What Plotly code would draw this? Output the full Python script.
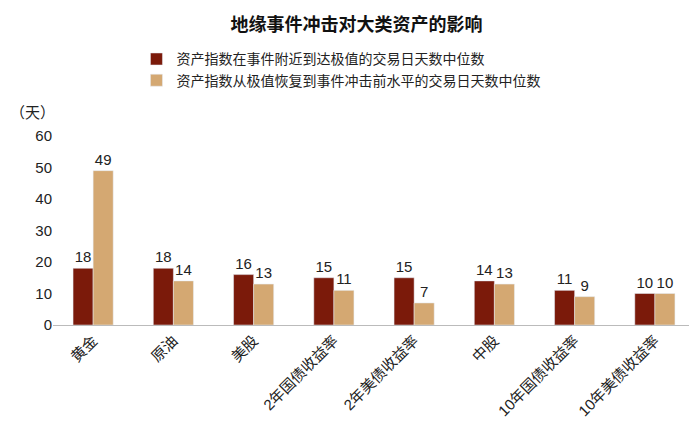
import plotly.graph_objects as go

categories = ["黄金", "原油", "美股", "2年国债收益率", "2年美债收益率", "中股", "10年国债收益率", "10年美债收益率"]
days_to_extreme = [18, 18, 16, 15, 15, 14, 11, 10]
days_to_recover = [49, 14, 13, 11, 7, 13, 9, 10]

font = "Liberation Sans, Noto Sans CJK SC"

fig = go.Figure()
fig.add_trace(go.Bar(
    x=categories, y=days_to_extreme, name="资产指数在事件附近到达极值的交易日天数中位数",
    marker_color="#7B1A0A", text=days_to_extreme, textposition="outside",
    textfont=dict(size=15, color="#222"), cliponaxis=False,
))
fig.add_trace(go.Bar(
    x=categories, y=days_to_recover, name="资产指数从极值恢复到事件冲击前水平的交易日天数中位数",
    marker_color="#D4A872", text=days_to_recover, textposition="outside",
    textfont=dict(size=15, color="#222"), cliponaxis=False,
))

fig.update_layout(
    width=697, height=427,
    font=dict(family=font, size=14, color="#222"),
    title=dict(text="<b>地缘事件冲击对大类资产的影响</b>", x=0.5, y=0.975, xanchor="center",
               font=dict(size=18, color="#111")),
    barmode="group", bargap=0.5, bargroupgap=0,
    plot_bgcolor="white", paper_bgcolor="white",
    legend=dict(x=0.13, y=1.49, xanchor="left", yanchor="top", font=dict(size=14),
                bgcolor="rgba(0,0,0,0)", tracegroupgap=8),
    margin=dict(l=45, r=10, t=128, b=110),
    showlegend=True,
)
fig.update_yaxes(range=[0, 60], dtick=10, showgrid=False, zeroline=False,
                 showline=False, tickfont=dict(size=15))
fig.update_xaxes(tickangle=-45, showline=True, linecolor="#bbb", tickfont=dict(size=15))
fig.add_annotation(text="（天）", xref="paper", yref="paper", x=-0.07, y=1.07,
                   xanchor="left", yanchor="bottom", showarrow=False, font=dict(size=15))

fig.write_html("out.html")
